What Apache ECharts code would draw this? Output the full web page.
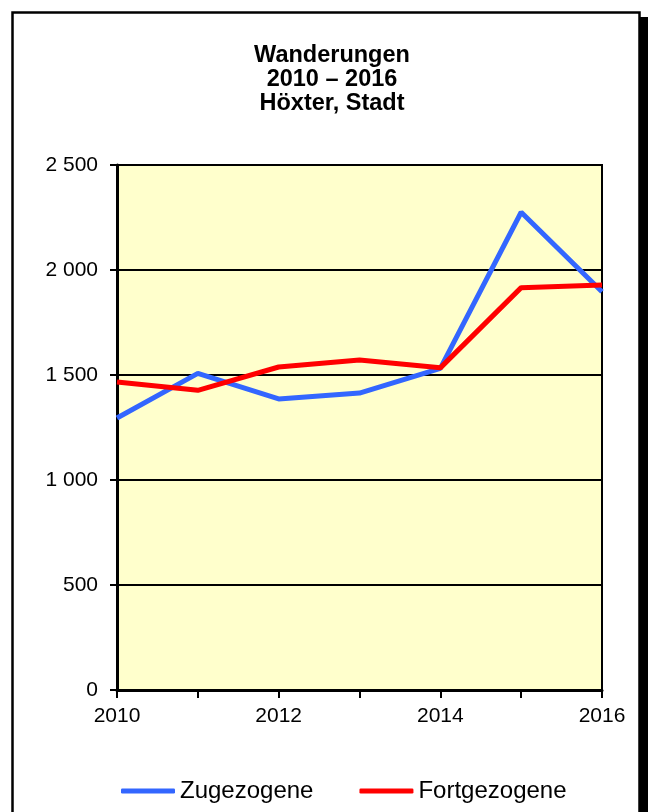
<!DOCTYPE html>
<html>
<head>
<meta charset="utf-8">
<title>Wanderungen 2010 – 2016 Höxter, Stadt</title>
<script src="https://cdn.jsdelivr.net/npm/echarts@6/dist/echarts.min.js"></script>
<style>
  html, body { margin: 0; padding: 0; background: #ffffff; }
  #chart { width: 648px; height: 812px; }
</style>
</head>
<body>
<div id="chart"></div>
<script>
// Migration figures for Höxter (town), 2010–2016
const years = ['2010', '2011', '2012', '2013', '2014', '2015', '2016'];
const zugezogene = [1295, 1508, 1386, 1414, 1532, 2275, 1896];
const fortgezogene = [1467, 1427, 1538, 1571, 1534, 1916, 1929];
const seriesNames = ['Zugezogene', 'Fortgezogene'];
const titleLines = ['Wanderungen', '2010 – 2016', 'Höxter, Stadt'];

const FONT = "Arial, 'Liberation Sans', sans-serif";

// thousands separated with a space, e.g. "2 500"
function fmtThousands(v) {
  return String(v).replace(/\B(?=(\d{3})+(?!\d))/g, ' ');
}

const chart = echarts.init(document.getElementById('chart'), null, { renderer: 'canvas' });

chart.setOption({
  backgroundColor: '#ffffff',
  animation: false,
  graphic: [
    // drop shadow on the right edge of the frame
    { type: 'rect', shape: { x: 639, y: 17, width: 9, height: 800 },
      style: { fill: '#000000' } },
    // outer frame
    { type: 'rect', shape: { x: 12.5, y: 12.5, width: 627, height: 820 },
      style: { fill: 'none', stroke: '#000000', lineWidth: 2.5 } }
  ],
  title: {
    text: titleLines.join('\n'),
    left: 332,
    textAlign: 'center',
    top: 44,
    padding: 0,
    textStyle: {
      fontFamily: FONT,
      fontWeight: 'bold',
      fontSize: 23.5,
      lineHeight: 24,
      color: '#000000'
    }
  },
  legend: {
    data: seriesNames,
    left: 121,
    top: 779,
    padding: 0,
    itemWidth: 54,
    itemHeight: 5,
    itemGap: 46,
    icon: 'roundRect',
    textStyle: { fontFamily: FONT, fontSize: 24, color: '#000000', padding: [0, 0, 0, 0] }
  },
  grid: {
    show: true,
    left: 117,
    right: 46,
    top: 165,
    bottom: 122,
    backgroundColor: '#FFFFCC',
    borderColor: '#000000',
    borderWidth: 2,
    containLabel: false
  },
  xAxis: {
    type: 'category',
    data: years,
    boundaryGap: false,
    axisLine: { lineStyle: { color: '#000000', width: 3 } },
    axisTick: { show: true, interval: 0, length: 8, lineStyle: { color: '#000000', width: 2 } },
    axisLabel: {
      interval: 1,
      margin: 16,
      fontFamily: FONT,
      fontSize: 21,
      color: '#000000'
    },
    splitLine: { show: false }
  },
  yAxis: {
    type: 'value',
    min: 0,
    max: 2500,
    interval: 500,
    axisLine: { show: true, lineStyle: { color: '#000000', width: 3 } },
    axisTick: { show: true, length: 7, lineStyle: { color: '#000000', width: 2 } },
    axisLabel: {
      margin: 19,
      fontFamily: FONT,
      fontSize: 21,
      color: '#000000',
      formatter: fmtThousands
    },
    splitLine: { show: true, lineStyle: { color: '#000000', width: 2 } }
  },
  series: [
    {
      name: seriesNames[0],
      type: 'line',
      data: zugezogene,
      symbol: 'none',
      color: '#3366FF',
      lineStyle: { color: '#3366FF', width: 5 },
      z: 3
    },
    {
      name: seriesNames[1],
      type: 'line',
      data: fortgezogene,
      symbol: 'none',
      color: '#FF0000',
      lineStyle: { color: '#FF0000', width: 5 },
      z: 4
    }
  ]
});
</script>
</body>
</html>
